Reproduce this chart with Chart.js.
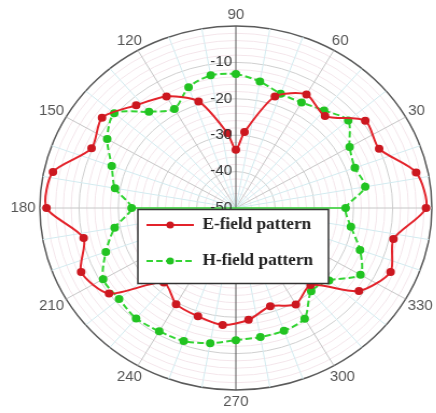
<!DOCTYPE html>
<html>
<head>
<meta charset="utf-8">
<script src="https://cdn.jsdelivr.net/npm/chart.js@4.4.0/dist/chart.umd.min.js"></script>
<style>
  html, body { margin: 0; padding: 0; background: #fff; width: 436px; height: 413px; overflow: hidden; }
  /* the reference plot is slightly wider than tall, so stretch the canvas a little */
  #wrap { position: absolute; left: 0; top: 0; width: 420px; height: 413px; transform: scaleX(1.077); transform-origin: 0 0; }
</style>
</head>
<body>
<div id="wrap"><canvas id="chart"></canvas></div>
<script>
// angle labels drawn round the plot (0 falls off the right edge)
const angleTicks = [30, 60, 90, 120, 150, 180, 210, 240, 270, 300, 330];
const radialTicks = [-10, -20, -30, -40, -50];
const radialMin = -50;
const radialMax = 0;
const gridStepDb = 2;

// E-field pattern (dB)
const eAngles = [0, 12, 24, 36, 48, 60, 72, 84, 90, 96, 108, 120, 132, 144, 156, 168, 180,
  192, 204, 216, 228, 240, 252, 264, 276, 288, 300, 312, 324, 336, 348];
const eValues = [-1.5, -3, -10, -9.2, -16, -14, -17.8, -29, -34, -29.3, -19.2, -14.6, -12, -7.8, -9.7, -2.3, -1.7,
  -10.3, -6.8, -10, -22.5, -19.5, -18.7, -17.7, -19.1, -21.6, -19.4, -21.5, -11.2, -6.8, -8.9];

// H-field pattern (dB)
const hAngles = [0, 10, 20, 30, 40, 50, 60, 70, 80, 90, 100, 110, 120, 130, 140, 150, 160, 170,
  180, 190, 200, 210, 220, 230, 240, 250, 260, 270, 280, 290, 300, 310, 320, 330, 340, 350];
const hValues = [-22, -16.5, -17.7, -16.5, -12.6, -15, -16.5, -16.6, -14.7, -13.2, -13, -14.7, -18.6, -15.5, -9.5, -12.1, -16.3, -18.7,
  -23.4, -18.6, -14.7, -10.9, -11.1, -10.4, -10.9, -11.1, -12.3, -13.7, -14, -14.1, -14.9, -20.1, -19, -13.3, -16.3, -20.2];

// radar categories every 2 degrees, starting at the top and going clockwise
const step = 2;
const labels = [];
for (let i = 0; i < 360 / step; i++) labels.push((90 - i * step + 360) % 360);

function toSlots(angles, values) {
  const out = labels.map(() => null);
  angles.forEach((a, k) => { out[labels.indexOf(a)] = values[k]; });
  return out;
}

// the H curve also has a straight segment from 180 to 0 across the centre
const chord = toSlots([0, 180], [hValues[hAngles.indexOf(0)], hValues[hAngles.indexOf(180)]]);

const angleLabelPlugin = {
  id: 'angleLabels',
  afterDraw(chart) {
    const r = chart.scales.r;
    const ctx = chart.ctx;
    ctx.save();
    ctx.font = '14px "Liberation Sans", Arial, sans-serif';
    ctx.fillStyle = '#555';
    ctx.textAlign = 'center';
    ctx.textBaseline = 'middle';
    angleTicks.forEach(a => {
      const p = r.getPointPositionForValue(labels.indexOf(a), radialMax);
      const t = a * Math.PI / 180;
      const w = ctx.measureText(String(a)).width;
      const x = p.x + Math.cos(t) * (4 + w / 2);
      const y = p.y - Math.sin(t) * 11 + (Math.sin(t) < -0.1 ? 1.5 : 0);
      ctx.fillText(String(a), x, y);
    });
    ctx.restore();
  }
};

const boxLegendPlugin = {
  id: 'boxLegend',
  afterDraw(chart) {
    const ctx = chart.ctx;
    const items = chart.data.datasets.filter(d => d.label);
    const box = { x: 128, y: 209.5, w: 177, h: 74 };
    ctx.save();
    ctx.fillStyle = '#fff';
    ctx.fillRect(box.x, box.y, box.w, box.h);
    ctx.strokeStyle = '#333';
    ctx.lineWidth = 1.5;
    ctx.strokeRect(box.x, box.y, box.w, box.h);
    items.forEach((d, k) => {
      const y = box.y + 15.5 + k * 36;
      ctx.strokeStyle = d.borderColor;
      ctx.lineWidth = d.borderWidth;
      ctx.setLineDash(d.borderDash || []);
      ctx.beginPath();
      ctx.moveTo(box.x + 8, y);
      ctx.lineTo(box.x + 52, y);
      ctx.stroke();
      ctx.setLineDash([]);
      ctx.fillStyle = d.pointBackgroundColor;
      ctx.beginPath();
      ctx.arc(box.x + 30, y, 3.5, 0, Math.PI * 2);
      ctx.fill();
      ctx.fillStyle = '#222';
      ctx.font = 'bold 16px "Liberation Serif", "Times New Roman", serif';
      ctx.textAlign = 'left';
      ctx.textBaseline = 'middle';
      ctx.fillText(d.label, box.x + 60, y);
    });
    ctx.restore();
  }
};

Chart.defaults.font.family = '"Liberation Sans", Arial, sans-serif';

new Chart(document.getElementById('chart'), {
  type: 'radar',
  data: {
    labels: labels,
    datasets: [
      {
        label: 'E-field pattern',
        data: toSlots(eAngles, eValues),
        borderColor: '#e3232b',
        pointBackgroundColor: '#cc1820',
        pointBorderColor: '#cc1820',
        pointRadius: 3,
        borderWidth: 2,
        fill: false,
        spanGaps: true,
        tension: 0.25
      },
      {
        label: 'H-field pattern',
        data: toSlots(hAngles, hValues),
        borderColor: '#33d433',
        pointBackgroundColor: '#22c322',
        pointBorderColor: '#22c322',
        pointRadius: 3,
        borderWidth: 2,
        borderDash: [6, 3],
        fill: false,
        spanGaps: true,
        tension: 0.25
      },
      {
        label: '',
        data: chord,
        borderColor: '#33d433',
        borderWidth: 1.5,
        borderDash: [6, 3],
        pointRadius: 0,
        fill: false,
        spanGaps: true,
        tension: 0
      }
    ]
  },
  options: {
    responsive: true,
    maintainAspectRatio: false,
    animation: false,
    layout: { padding: { left: 18, right: 0, top: 17, bottom: 14 } },
    plugins: { legend: { display: false }, tooltip: { enabled: false } },
    scales: {
      r: {
        min: radialMin,
        max: radialMax,
        startAngle: 0,
        ticks: {
          stepSize: gridStepDb,
          autoSkip: false,
          z: 1,
          showLabelBackdrop: false,
          color: '#333',
          font: { size: 14 },
          callback: v => radialTicks.includes(v) ? v + '       ' : ''
        },
        grid: {
          circular: true,
          color: c => {
            const v = c.tick ? c.tick.value : 0;
            if (v === radialMax) return '#5a5a5a';
            return v % 10 === 0 ? '#cfcfcf' : '#f4e6eb';
          },
          lineWidth: c => (c.tick && c.tick.value === radialMax) ? 1.5 : 1
        },
        angleLines: {
          color: c => {
            const a = labels[c.index];
            if (a === 90 || a === 270) return '#555555';
            if (a % 30 === 0) return '#c6c6c6';
            if (a % 10 === 0) return '#d3ebf0';
            return 'rgba(0,0,0,0)';
          },
          lineWidth: c => labels[c.index] % 10 === 0 ? 1 : 0
        },
        pointLabels: { display: false }
      }
    }
  },
  plugins: [angleLabelPlugin, boxLegendPlugin]
});
</script>
</body>
</html>
